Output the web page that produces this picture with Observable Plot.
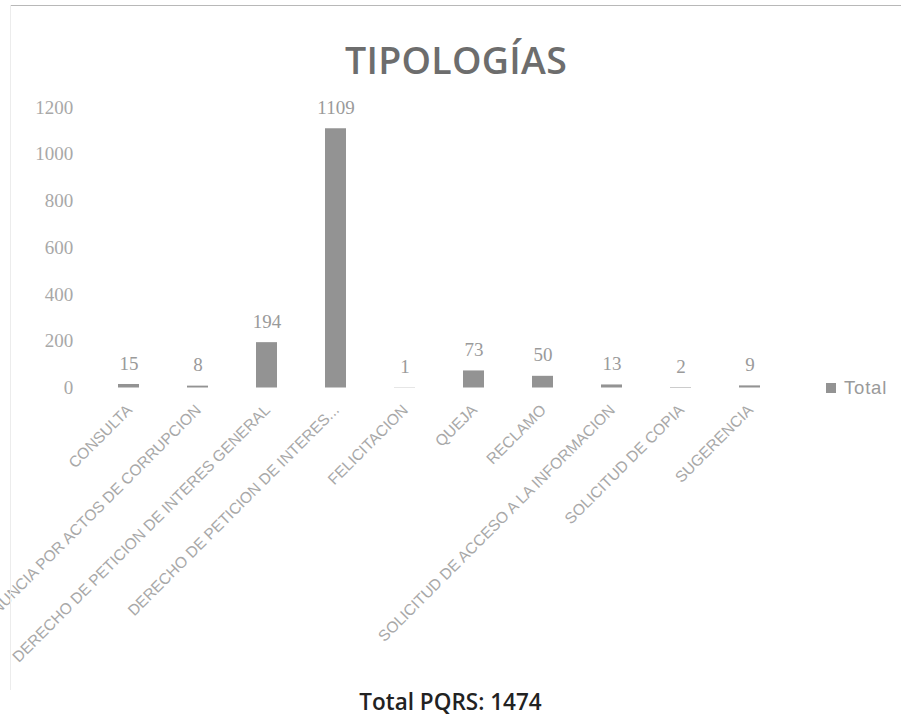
<!DOCTYPE html>
<html><head><meta charset="utf-8">
<script src="https://cdn.jsdelivr.net/npm/d3@7"></script>
<script src="https://cdn.jsdelivr.net/npm/@observablehq/plot@0.6"></script>
<style>
body{margin:0;background:#fff;}
#wrap{position:relative;width:901px;height:718px;overflow:hidden;background:#fff;}
#title{height:92px;box-sizing:border-box;padding-top:40px;padding-left:11px;text-align:center;font-family:"Open Sans";font-weight:600;font-size:37.5px;color:#6d6d6d;line-height:40px;letter-spacing:0.3px;}
#chart svg{display:block;}
#caption{margin-top:2px;height:30px;line-height:30px;text-align:center;font-family:"Open Sans";font-weight:600;font-size:22.5px;color:#222;}
#legend{position:absolute;left:826px;top:377px;font-family:"Liberation Sans";font-size:18.5px;color:#9a9a9a;line-height:22px;white-space:nowrap;letter-spacing:0.8px;}
#legend span.sw{display:inline-block;width:10px;height:10px;background:#939393;margin-right:8px;vertical-align:1px;}
#topline{position:absolute;left:10px;right:0;top:5px;border-top:1px solid #b8b8b8;}
#leftline{position:absolute;left:10px;top:5px;height:685px;border-left:1px solid #ececec;}
</style>
</head><body>
<div id="wrap">
<div id="topline"></div>
<div id="leftline"></div>
<div id="title">TIPOLOGÍAS</div>
<div id="chart"></div>
<div id="caption">Total PQRS: 1474</div>
<div id="legend"><span class="sw"></span>Total</div>
</div>
<script>
const categories = [
  "CONSULTA",
  "DENUNCIA POR ACTOS DE CORRUPCION",
  "DERECHO DE PETICION DE INTERES GENERAL",
  "DERECHO DE PETICION DE INTERES...",
  "FELICITACION",
  "QUEJA",
  "RECLAMO",
  "SOLICITUD DE ACCESO A LA INFORMACION",
  "SOLICITUD DE COPIA",
  "SUGERENCIA"
];
const totals = [15, 8, 194, 1109, 1, 73, 50, 13, 2, 9];
const yTicks = [0, 200, 400, 600, 800, 1000, 1200];

const data = categories.map((c, i) => ({category: c, total: totals[i]}));

const chart = Plot.plot({
  width: 901,
  height: 593,
  marginLeft: 91.75,
  marginRight: 114.25,
  marginTop: 15,
  marginBottom: 297.5,
  style: {background: "transparent", color: "#a0a0a0"},
  x: {domain: categories, paddingInner: 0.69, paddingOuter: 0.345, axis: null},
  y: {domain: [0, 1200], axis: null},
  marks: [
    Plot.axisY({ticks: yTicks, label: null, tickSize: 0, tickPadding: 19, fontFamily: "Liberation Serif", fontSize: 19, fill: "#a8a8a8", tickFormat: d => String(d)}),
    Plot.barY(data, {x: "category", y: "total", fill: "#939393"}),
    Plot.text(data, {x: "category", y: "total", text: d => String(d.total), dy: -21, fill: "#9a9a9a", fontFamily: "Liberation Serif", fontSize: 19}),
    Plot.text(categories, {x: d => d, frameAnchor: "bottom", text: d => d, rotate: -45, textAnchor: "end", dx: 4, dy: 23, fill: "#a8a8a8", fontFamily: "Liberation Sans", fontSize: 15.5, letterSpacing: 0.3})
  ]
});
document.getElementById("chart").appendChild(chart);
</script>
</body></html>
